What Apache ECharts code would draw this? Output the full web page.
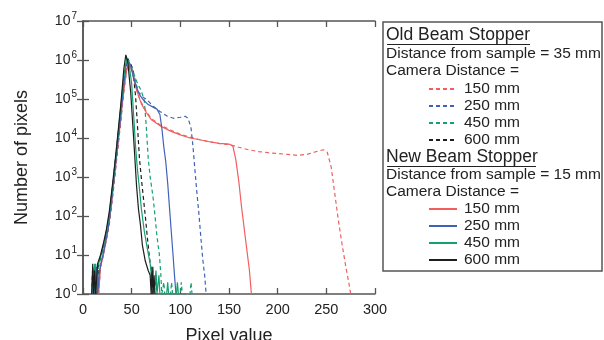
<!DOCTYPE html>
<html>
<head>
<meta charset="utf-8">
<script src="https://cdn.jsdelivr.net/npm/echarts@6/dist/echarts.min.js"></script>
<style>
  html, body { margin: 0; padding: 0; background: #fff; }
  #chart { width: 604px; height: 340px; }
</style>
</head>
<body>
<div id="chart"></div>
<script>
// [pixel value, number of pixels]
const old150 = [[10,1],[11,3],[12,1],[14,4],[15,1],[17,5],[20,9],[23,20],[26,50],[29,180],[32,800],[35,4000],[38,20000],[41,120000],[44,500000],[47,800000],[50,550000],[53,260000],[56,140000],[60,80000],[65,48000],[70,32000],[80,21000],[90,16000],[100,12500],[110,10500],[120,9000],[130,8000],[140,7200],[150,6800],[160,5800],[170,5000],[180,4500],[190,4200],[200,4000],[210,3800],[220,3600],[230,3800],[240,4500],[247,5000],[251,4300],[255,1800],[258,500],[262,90],[266,20],[270,5],[273,2],[275,1]];
const old250 = [[10,1],[12,3],[13,1],[15,4],[16,1],[18,5],[21,10],[24,25],[27,60],[30,250],[33,1200],[36,6000],[39,30000],[42,160000],[45,600000],[48,900000],[51,600000],[54,280000],[57,150000],[62,110000],[66,95000],[72,65000],[79,48000],[86,37000],[93,32000],[100,34000],[105,36000],[108,32000],[111,18000],[113,6000],[115,1500],[117,400],[119,120],[121,30],[123,8],[125,3],[126.5,1]];
const old450 = [[9,1],[11,4],[12,1],[13,6],[14,1],[16,5],[19,10],[22,20],[25,45],[28,150],[31,700],[34,3500],[37,18000],[40,90000],[43,350000],[46,700000],[49,750000],[52,450000],[56,250000],[60,160000],[63,90000],[65,20000],[67,3000],[69,1000],[72,300],[74,100],[76,30],[78.5,10],[80,3],[81,1],[83,2],[84,1],[90,1],[91,2],[92,1],[100,1],[101,2],[102,1],[110,1],[111,2],[112,1]];
const old600 = [[9,1],[10,5],[11,1],[13,3],[14,1],[16,6],[19,11],[22,22],[25,50],[28,170],[31,800],[34,4000],[37,20000],[40,110000],[43,450000],[46,1100000],[48,1200000],[51,600000],[54,120000],[56,20000],[58,3000],[60,900],[62,300],[64,100],[66,30],[68,10],[70,4],[71,1],[72,4],[73,1],[75,3],[76,1]];
const new150 = [[10,1],[12,4],[13,1],[15,3],[16,1],[18,5],[21,10],[24,25],[27,70],[30,300],[33,1500],[36,7000],[39,35000],[42,170000],[45,600000],[48,800000],[51,500000],[54,220000],[57,120000],[60,75000],[65,45000],[70,30000],[80,20000],[90,15000],[100,12000],[110,10000],[120,9000],[130,8000],[140,7300],[150,7000],[154,6200],[157,2800],[160,800],[163,160],[166,40],[169,10],[171,4],[173,1]];
const new250 = [[9,1],[11,3],[12,1],[14,5],[15,1],[17,4],[20,9],[23,20],[26,50],[29,200],[32,1000],[35,5000],[38,25000],[41,140000],[44,700000],[46,1000000],[49,700000],[52,350000],[55,200000],[58,130000],[62,95000],[67,72000],[72,62000],[76,55000],[79,40000],[81,18000],[83,6000],[85,2500],[87,700],[89.5,100],[92.5,10],[94,3],[95.5,1]];
const new450 = [[9,1],[10,4],[11,1],[12,6],[13,1],[15,5],[18,9],[21,18],[24,40],[27,110],[30,450],[33,2200],[36,12000],[39,70000],[42,400000],[45,1100000],[47,900000],[50,250000],[52,40000],[54,6000],[56,1500],[58,500],[60,150],[63,40],[66,15],[69,6],[71,2],[72,5],[73,1],[75,4],[76,1],[78,3],[79,1],[86,1],[87,2],[88,1],[96,1],[97,2],[98,1]];
const new600 = [[9,1],[10,6],[11,1],[12,4],[13,1],[15,6],[18,10],[21,20],[24,45],[27,130],[30,550],[33,2600],[36,14000],[39,80000],[42,600000],[44,1350000],[46,900000],[49,150000],[51,25000],[53,4000],[55,600],[57,150],[59,60],[61,18],[64,7],[67,4],[69,3],[70,1],[71,5],[72,1],[73,3],[74,1]];

const xTicks = [0, 50, 100, 150, 200, 250, 300];
const yExponents = [0, 1, 2, 3, 4, 5, 6, 7];

const RED = '#f25e5e', BLUE = '#3f62b8', GREEN = '#14a070', BLACK = '#1e1e1e';
const FONT = 'Liberation Sans';

function line(name, data, color, dashed) {
  return {
    name: name,
    type: 'line',
    data: data,
    showSymbol: false,
    symbol: 'none',
    silent: true,
    animation: false,
    lineStyle: { color: color, width: 1.2, type: dashed ? [4, 3] : 'solid' },
    itemStyle: { color: color }
  };
}

const series = [
  line('old 150 mm', old150, RED, true),
  line('old 250 mm', old250, BLUE, true),
  line('old 450 mm', old450, GREEN, true),
  line('old 600 mm', old600, BLACK, true),
  line('new 150 mm', new150, RED, false),
  line('new 250 mm', new250, BLUE, false),
  line('new 450 mm', new450, GREEN, false),
  line('new 600 mm', new600, BLACK, false)
];

const axisLine = { lineStyle: { color: '#555', width: 1.5 } };
const tickIn = { inside: true, length: 6, lineStyle: { color: '#555', width: 1.3 } };

function legendBlock(names, top) {
  return {
    data: names,
    orient: 'vertical',
    left: 428,
    top: top,
    padding: 0,
    itemWidth: 28,
    itemHeight: 14,
    itemGap: 1,
    selectedMode: false,
    itemStyle: { opacity: 0 },
    formatter: n => n.split(' ').slice(1).join(' '),
    textStyle: { fontFamily: FONT, fontSize: 15.5, color: '#222', padding: [0, 0, 0, 2] }
  };
}

const textRows = [
  ['Old Beam Stopper', 35, true],
  ['Distance from sample = 35 mm', 54, false],
  ['Camera Distance =', 71, false],
  ['New Beam Stopper', 157, true],
  ['Distance from sample = 15 mm', 175, false],
  ['Camera Distance =', 192, false]
];

const graphics = [{
  type: 'rect',
  shape: { x: 383, y: 22, width: 219, height: 249 },
  style: { fill: 'none', stroke: '#555', lineWidth: 1.5 }
}];
textRows.forEach(([t, y, head]) => {
  graphics.push({
    type: 'text',
    x: 386, y: y,
    style: {
      text: t, fontFamily: FONT, fontSize: head ? 17.5 : 15.5,
      fill: '#222', verticalAlign: 'middle'
    }
  });
});
graphics.push({ type: 'line', shape: { x1: 387, y1: 44.5, x2: 530, y2: 44.5 }, style: { stroke: '#222', lineWidth: 1 } });
graphics.push({ type: 'line', shape: { x1: 387, y1: 166.5, x2: 536, y2: 166.5 }, style: { stroke: '#222', lineWidth: 1 } });

const chart = echarts.init(document.getElementById('chart'), null, { renderer: 'canvas' });
chart.setOption({
  animation: false,
  backgroundColor: '#fff',
  grid: { left: 83, top: 21, right: 229, bottom: 46, containLabel: false, outerBoundsMode: 'none' },
  legend: [
    legendBlock(['old 150 mm', 'old 250 mm', 'old 450 mm', 'old 600 mm'], 81),
    legendBlock(['new 150 mm', 'new 250 mm', 'new 450 mm', 'new 600 mm'], 201)
  ],
  xAxis: [{
    type: 'value', min: 0, max: 300, interval: 50,
    name: 'Pixel value', nameLocation: 'middle', nameGap: 33,
    nameTextStyle: { fontFamily: FONT, fontSize: 18, color: '#222' },
    axisLine: axisLine, axisTick: tickIn, splitLine: { show: false },
    axisLabel: {
      margin: 8, fontFamily: FONT, fontSize: 14.5, color: '#222',
      formatter: v => xTicks.includes(v) ? String(v) : ''
    }
  }, {
    type: 'value', min: 0, max: 300, interval: 50, position: 'top',
    axisLine: axisLine, axisTick: tickIn, splitLine: { show: false },
    axisLabel: { show: false }
  }],
  yAxis: [{
    type: 'log', logBase: 10, min: 1, max: 1e7,
    name: 'Number of pixels', nameLocation: 'middle', nameGap: 52,
    nameTextStyle: { fontFamily: FONT, fontSize: 18, color: '#222' },
    axisLine: axisLine, axisTick: tickIn, splitLine: { show: false },
    minorTick: { show: false },
    axisLabel: {
      margin: 6,
      formatter: v => {
        const e = Math.round(Math.log10(v));
        return yExponents.includes(e) ? '{b|10}{s|' + e + '}' : '';
      },
      rich: {
        b: { fontFamily: FONT, fontSize: 14, color: '#222' },
        s: { fontFamily: FONT, fontSize: 10, color: '#222', padding: [0, 0, 10, 1] }
      }
    }
  }, {
    type: 'log', logBase: 10, min: 1, max: 1e7, position: 'right',
    axisLine: axisLine, axisTick: tickIn, splitLine: { show: false },
    axisLabel: { show: false }
  }],
  series: series,
  graphic: graphics
});
</script>
</body>
</html>
